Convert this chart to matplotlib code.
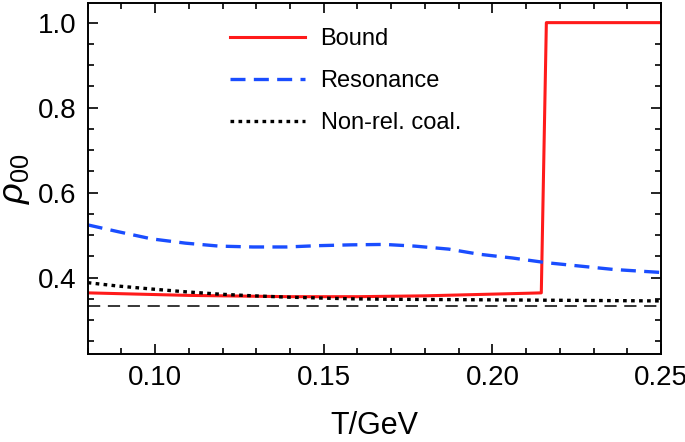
import matplotlib.pyplot as plt
from matplotlib.ticker import MultipleLocator

plt.rcParams["font.family"] = ["Liberation Sans", "DejaVu Sans"]
plt.rcParams["mathtext.fontset"] = "custom"
plt.rcParams["mathtext.rm"] = "Liberation Sans"
plt.rcParams["mathtext.it"] = "Liberation Sans:italic"

# Bound (red solid)
T_bound = [0.08, 0.09, 0.10, 0.11, 0.12, 0.13, 0.14, 0.15, 0.16, 0.17, 0.18, 0.19, 0.20, 0.21, 0.2145, 0.216, 0.23, 0.25]
rho_bound = [0.364, 0.362, 0.360, 0.358, 0.357, 0.356, 0.355, 0.355, 0.355, 0.356, 0.357, 0.359, 0.361, 0.363, 0.364, 1.0, 1.0, 1.0]

# Resonance (blue dashed)
T_res = [0.08, 0.089, 0.099, 0.109, 0.119, 0.129, 0.139, 0.148, 0.158, 0.168, 0.177, 0.187, 0.196, 0.206, 0.216, 0.226, 0.236, 0.25]
rho_res = [0.524, 0.508, 0.491, 0.481, 0.474, 0.472, 0.472, 0.475, 0.477, 0.478, 0.474, 0.467, 0.455, 0.446, 0.435, 0.427, 0.419, 0.412]

# Non-relativistic coalescence (black dotted)
T_nr = [0.08, 0.089, 0.099, 0.109, 0.119, 0.129, 0.139, 0.148, 0.158, 0.168, 0.19, 0.21, 0.23, 0.25]
rho_nr = [0.388, 0.380, 0.373, 0.3665, 0.361, 0.357, 0.354, 0.352, 0.350, 0.349, 0.348, 0.347, 0.346, 0.345]

rho_unpol = 1 / 3

fig = plt.figure(figsize=(6.85, 4.42), dpi=100)
ax = fig.add_axes([0.128, 0.199, 0.837, 0.794])

ax.plot(T_bound, rho_bound, color="#ff1a1a", lw=2.2, label="Bound")
ax.plot(T_res, rho_res, color="#1a4dff", lw=2.4, dashes=(4.5, 2.5), label="Resonance")
ax.plot(T_nr, rho_nr, color="black", lw=2.4, dashes=(1.1, 1.3), label="Non-rel. coal.")
ax.axhline(rho_unpol, color="black", lw=1.1, dashes=(8, 5))

ax.set_xlim(0.08, 0.25)
ax.set_ylim(0.22, 1.046)
ax.xaxis.set_minor_locator(MultipleLocator(0.01))
ax.yaxis.set_minor_locator(MultipleLocator(0.05))
ax.set_xticks([0.10, 0.15, 0.20, 0.25])
ax.set_xticklabels(["0.10", "0.15", "0.20", "0.25"])
ax.set_yticks([0.4, 0.6, 0.8, 1.0])
ax.set_yticklabels(["0.4", "0.6", "0.8", "1.0"])
ax.tick_params(which="both", direction="in", top=True, right=True, labelsize=20, width=1.2, pad=8)
ax.tick_params(which="major", length=7)
ax.tick_params(which="minor", length=4)
for sp in ax.spines.values():
    sp.set_linewidth(1.4)

ax.set_xlabel("T/GeV", fontsize=22, labelpad=14)
ax.set_ylabel(r"$\rho_{\rm 00}$", fontsize=26, labelpad=4)

ax.legend(loc="upper left", bbox_to_anchor=(0.211, 0.99), frameon=False, fontsize=17,
          handlelength=3.2, handletextpad=0.64, labelspacing=0.86)

fig.savefig("out.png", dpi=100)
